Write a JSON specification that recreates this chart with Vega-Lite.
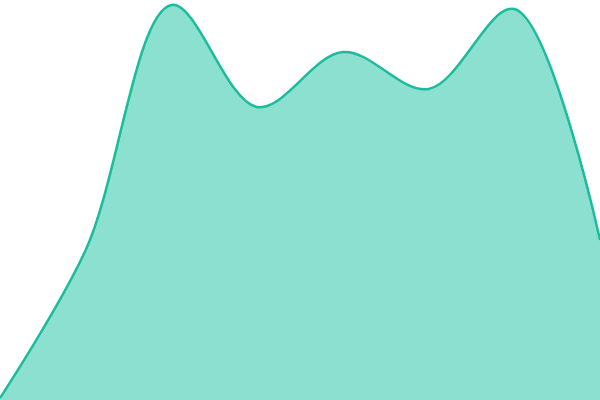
{
  "$schema": "https://vega.github.io/schema/vega-lite/v6.json",
  "width": 600,
  "height": 400,
  "autosize": {"type": "none"},
  "padding": 0,
  "background": "white",
  "config": {"view": {"stroke": null}},
  "data": {"values": [
    {"i": 0, "v": 2},
    {"i": 1, "v": 150},
    {"i": 2, "v": 395},
    {"i": 3, "v": 293},
    {"i": 4, "v": 348},
    {"i": 5, "v": 311},
    {"i": 6, "v": 391},
    {"i": 7, "v": 160}
  ]},
  "mark": {"type": "area", "interpolate": "catmull-rom", "color": "#8be0d0", "opacity": 1, "line": {"color": "#1abc9c", "strokeWidth": 2.5}},
  "encoding": {
    "x": {"field": "i", "type": "quantitative", "scale": {"domain": [0, 7], "nice": false, "zero": false}, "axis": null},
    "y": {"field": "v", "type": "quantitative", "scale": {"domain": [0, 400], "nice": false}, "axis": null}
  }
}
